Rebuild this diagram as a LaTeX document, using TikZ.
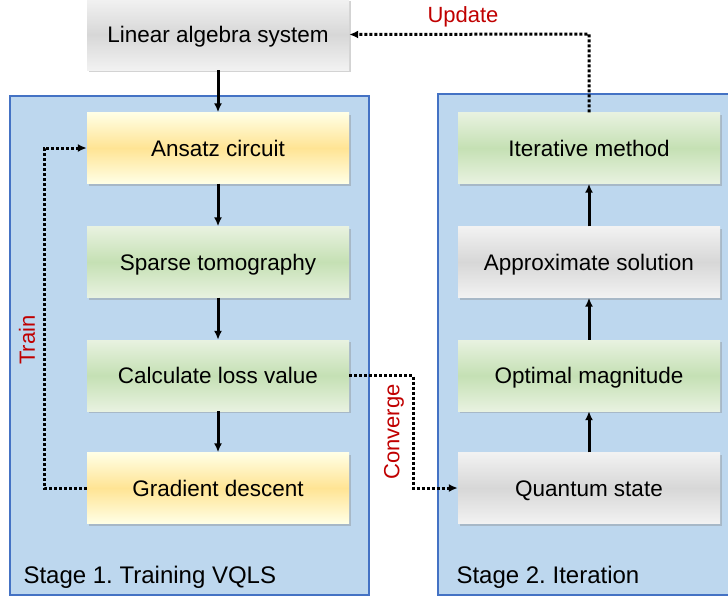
\documentclass[tikz,border=0pt]{standalone}
\usepackage{fontspec}
\setmainfont{Liberation Sans}
\usetikzlibrary{shadows, arrows.meta}
\definecolor{panelblue}{RGB}{189,215,238}
\definecolor{panelline}{RGB}{68,114,196}
\definecolor{labelred}{RGB}{192,0,0}
\frenchspacing
\begin{document}
\begin{tikzpicture}[x=1pt, y=-1pt,
				>={Latex[length=9pt, width=8pt]},   % arrow tips
				box/.style={minimum width=262pt, minimum height=71pt, inner sep=0pt, text height=16pt, text depth=0pt,
					font=\fontsize{22.5}{26}\selectfont, drop shadow={shadow xshift=1.5pt, shadow yshift=-2pt, opacity=0.35}},
				yellowbox/.style={box, top color=yellow!10!white, bottom color=yellow!10!white, middle color={rgb,255:red,255;green,228;blue,148}},
				greenbox/.style={box, top color={rgb,255:red,232;green,242;blue,224}, bottom color={rgb,255:red,232;green,242;blue,224}, middle color={rgb,255:red,197;green,224;blue,180}},
				graybox/.style={box, top color={rgb,255:red,242;green,242;blue,242}, bottom color={rgb,255:red,242;green,242;blue,242}, middle color={rgb,255:red,215;green,215;blue,215}},
				flow/.style={->, line width=3pt},
				loop/.style={->, line width=3pt, dash pattern=on 3pt off 2pt},
				tag/.style={text=labelred, font=\fontsize{22}{26}\selectfont}]
				% Bildbereich
				\useasboundingbox (0,0) rectangle (728,598);
				% Stufen zeichnen
				\draw[fill=panelblue, draw=panelline, line width=1.2pt] (10,96) rectangle (369,595);
				\draw[fill=panelblue, draw=panelline, line width=1.2pt] (438,94) rectangle (731,595);
				\node[anchor=base west, font=\fontsize{24}{28}\selectfont] (stageone) at (20,583) {Stage 1. Training VQLS};
				\node[anchor=base west, font=\fontsize{24}{28}\selectfont] (stagetwo) at (453,583) {Stage 2. Iteration};
				% Kaesten zeichnen
				\node[graybox] (linsys) at (218,34.5) {Linear algebra system};
				\node[yellowbox] (ansatz) at (218,148) {Ansatz circuit};
				\node[greenbox] (tomo) at (218,262) {Sparse tomography};
				\node[greenbox] (loss) at (218,375.5) {Calculate loss value};
				\node[yellowbox] (grad) at (218,488) {Gradient descent};
				\node[greenbox] (iter) at (589,148) {Iterative method};
				\node[graybox] (approx) at (589,262) {Approximate solution};
				\node[greenbox] (magn) at (589,375.5) {Optimal magnitude};
				\node[graybox] (qstate) at (589,488) {Quantum state};
				% Pfeile zeichnen
				\draw[flow] (linsys) -- (ansatz);
				\draw[flow] (ansatz) -- (tomo);
				\draw[flow] (tomo) -- (loss);
				\draw[flow] (loss) -- (grad);
				\draw[flow] (qstate) -- (magn);
				\draw[flow] (magn) -- (approx);
				\draw[flow] (approx) -- (iter);
				% Schleifen zeichnen
				\coordinate (trainx) at (44,0);
				\coordinate (convx) at (413,0);
				\coordinate (updy) at (0,34);
				\draw[loop] (grad.west) -- (trainx |- grad.west) -- (trainx |- ansatz.west) -- (ansatz.west);
				\draw[loop] (loss.east) -- (convx |- loss.east) -- (convx |- qstate.west) -- (qstate.west);
				\draw[loop] (iter.north) -- (iter.north |- updy) -- (linsys.east);
				% Beschriftung
				\node[tag, rotate=90] (train) at (27,340) {Train};
				\node[tag, rotate=90] (conv) at (394,432) {Converge};
				\node[tag] (upd) at (463,17) {Update};
			\end{tikzpicture}
\end{document}
